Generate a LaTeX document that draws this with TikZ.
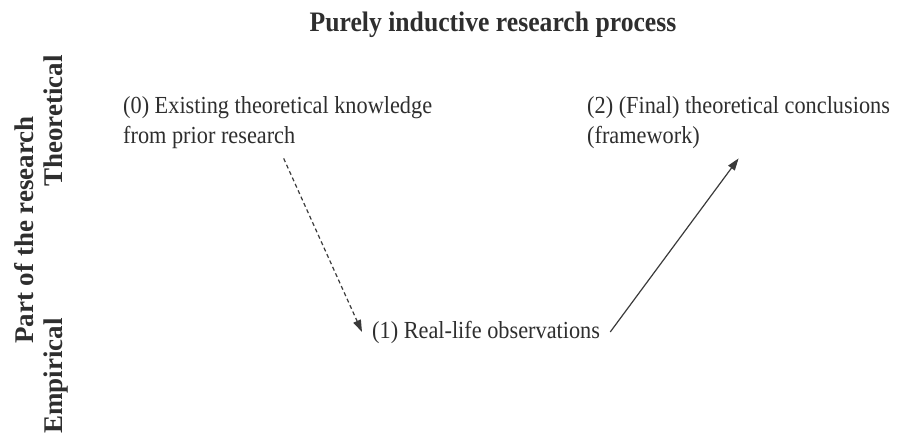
\documentclass[tikz,border=0pt]{standalone}
\usepackage{fontspec}
\setmainfont{Liberation Serif}
\newfontfamily\bodyfont[FakeStretch=0.91]{Liberation Serif}
\usetikzlibrary{arrows.meta}
\definecolor{ink}{HTML}{2E2E2E}
\definecolor{linegray}{HTML}{3A3A3A}
\begin{document}
\begin{tikzpicture}[x=1pt,y=-1pt,
  stage/.style={inner sep=10pt, anchor=base west, align=left, text=ink,
    font=\bodyfont\fontsize{24.5}{30}\selectfont},
  heading/.style={inner sep=0pt, anchor=base, text=ink,
    font=\bodyfont\bfseries\fontsize{28.2}{32}\selectfont},
  axislabel/.style={inner sep=0pt, anchor=base, rotate=90, text=ink,
    font=\bfseries\fontsize{27}{30}\selectfont},
  flow/.style={draw=linegray, line width=1.2pt,
    -{Triangle[length=12pt,width=8pt]}},
  ]
\useasboundingbox (0,0) rectangle (901,441);

% title
\node[heading] (title) at (493,32) {Purely inductive research process};

% vertical axis labels
\node[axislabel] (axis) at (33,230) {Part of the research};
\node[axislabel] (theo) at (62,121) {Theoretical};
\node[axislabel] (emp)  at (62,376) {Empirical};

% the three stages (base anchor sits on the last line)
\node[stage] (n0) at (113,143) {(0) Existing theoretical knowledge\\from prior research};
\node[stage] (n1) at (362,338) {(1) Real-life observations};
\node[stage] (n2) at (577,143) {(2) (Final) theoretical conclusions\\(framework)};

% connectors
\draw[flow, dash pattern=on 4pt off 3pt] ([xshift=6pt]n0.south) -- (n1.west);
\draw[flow] (n1.east) -- (n2.south);
\end{tikzpicture}
\end{document}
